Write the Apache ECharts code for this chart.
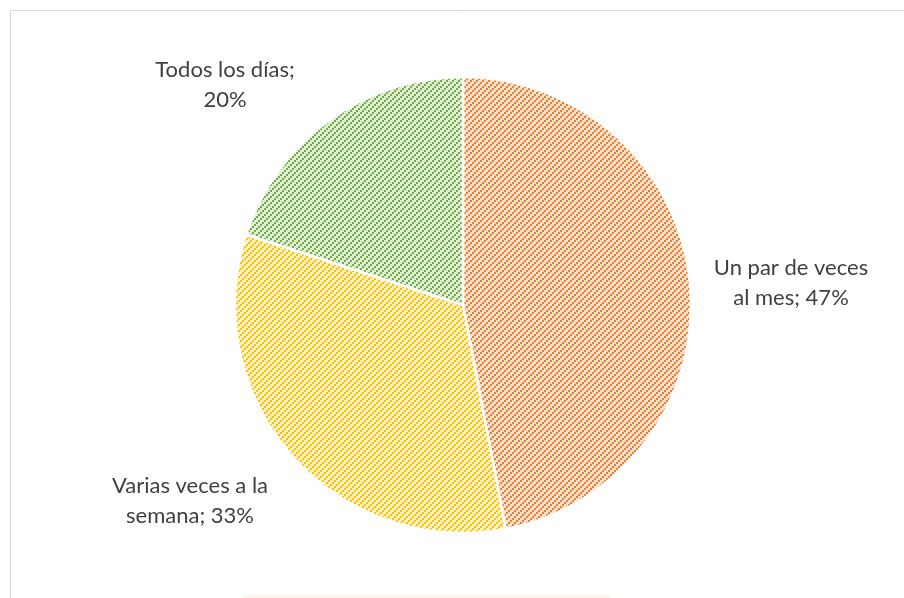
<!DOCTYPE html>
<html>
<head>
<meta charset="utf-8">
<style>
    html, body { margin: 0; padding: 0; background: #fff; }
    #main { width: 904px; height: 598px; }
</style>
</head>
<body>
<div id="main"></div>
<script src="https://cdn.jsdelivr.net/npm/echarts@6/dist/echarts.min.js"></script>
<script>
    var categories = ['Un par de veces al mes', 'Varias veces a la semana', 'Todos los días'];
    var values = [47, 33, 20];
    // where the label text wraps to the second line
    var firstLines = ['Un par de veces', 'Varias veces a la', 'Todos los días;'];
    var stripeColors = ['#ED7D31', '#FFC000', '#70AD47'];
    var backColors = ['#FBE0CC', '#FFF0C4', '#DFEED4'];

    // hatch tile, upward diagonal like the excel pattern
    function hatch(fg, bg) {
        var c = document.createElement('canvas');
        c.width = 6; c.height = 6;
        var ctx = c.getContext('2d');
        ctx.fillStyle = bg;
        ctx.fillRect(0, 0, 6, 6);
        ctx.fillStyle = fg;
        ctx.fillRect(4, 0, 2, 2);
        ctx.fillRect(2, 2, 2, 2);
        ctx.fillRect(0, 4, 2, 2);
        return { image: c, repeat: 'repeat' };
    }

    var labelPos = [[791, 283], [190, 501], [225, 85]];

    var chart = echarts.init(document.getElementById('main'));
    var option = {
        animation: false,
        graphic: [
            {
                type: 'rect',
                shape: { x: 10.5, y: 10.5, width: 920, height: 620 },
                style: { fill: 'none', stroke: '#d9d9d9', lineWidth: 1 }
            },
            {
                type: 'rect',
                shape: { x: 243, y: 595, width: 367, height: 4 },
                style: { fill: '#fdf3e6' }
            }
        ],
        series: [{
            type: 'pie',
            center: [463, 305],
            radius: 228,
            startAngle: 90,
            clockwise: true,
            data: categories.map(function (name, i) {
                return {
                    name: name,
                    value: values[i],
                    itemStyle: { color: hatch(stripeColors[i], backColors[i]) }
                };
            }),
            itemStyle: { borderColor: '#fff', borderWidth: 2.5 },
            label: {
                show: true,
                position: 'outside',
                overflow: 'none',
                fontFamily: 'Lato',
                fontSize: 22,
                lineHeight: 30,
                color: '#404040',
                align: 'center',
                formatter: function (p) {
                    var first = firstLines[p.dataIndex];
                    var rest = (p.name + ';').slice(first.length).trim();
                    return first + '\n' + (rest ? rest + ' ' : '') + p.value + '%';
                }
            },
            labelLine: { show: false },
            labelLayout: function (params) {
                var pos = labelPos[params.dataIndex];
                return { x: pos[0], y: pos[1], align: 'center', verticalAlign: 'middle' };
            },
            emphasis: { disabled: true }
        }]
    };
    chart.setOption(option);
</script>
</body>
</html>
